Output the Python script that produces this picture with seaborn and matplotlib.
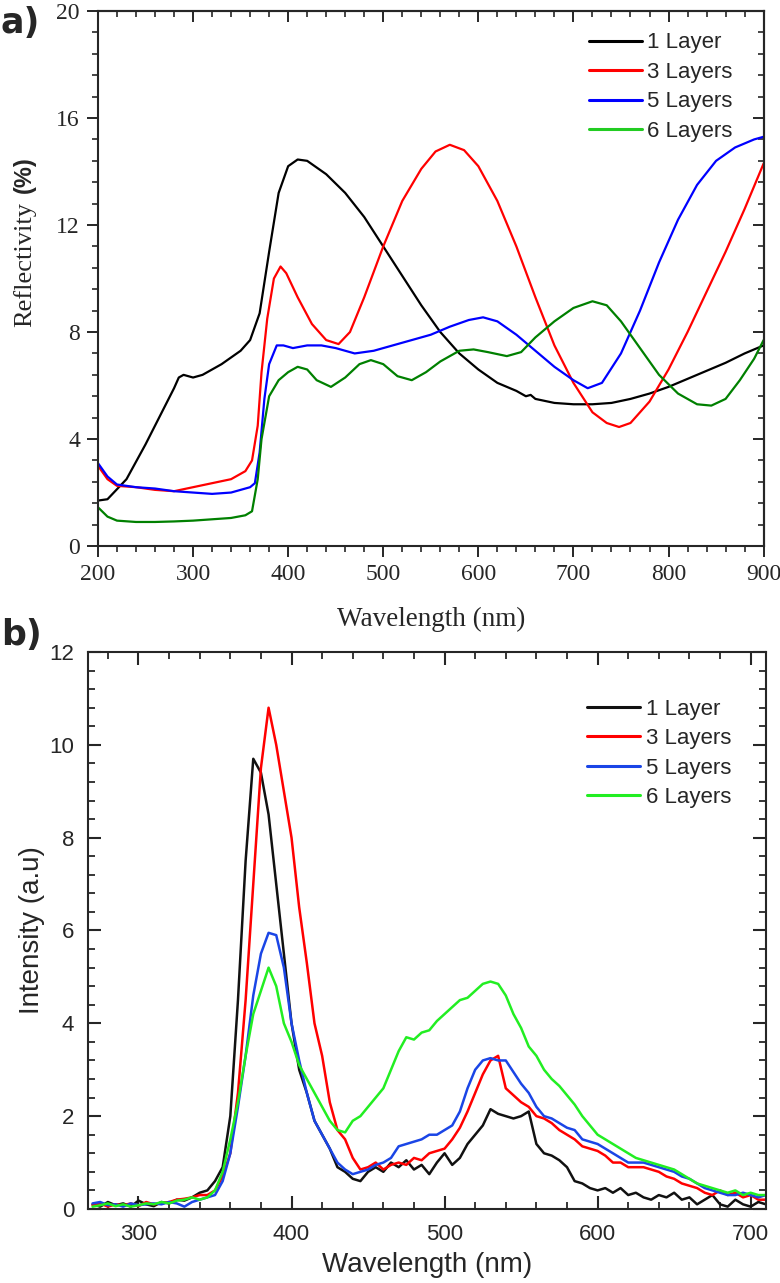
import numpy as np
import pandas as pd
import seaborn as sns
import matplotlib.pyplot as plt
from matplotlib.ticker import MultipleLocator

# ---- panel a: reflectivity ----
refl_wl_1 = [200, 210, 230, 250, 270, 280, 285, 290, 300, 310, 330, 350, 360, 370, 380, 390, 400, 410, 420, 440, 460, 480,
             500, 520, 540, 560, 580, 600, 620, 640, 650, 655, 660, 680, 700, 720, 740, 760, 780, 800, 820, 840, 860, 880, 900]
refl_1 = [1.7, 1.75, 2.5, 3.8, 5.2, 5.9, 6.3, 6.4, 6.3, 6.4, 6.8, 7.3, 7.7, 8.7, 11.0, 13.2, 14.2, 14.45, 14.4, 13.9, 13.2, 12.3,
          11.2, 10.1, 9.0, 8.0, 7.2, 6.6, 6.1, 5.8, 5.6, 5.65, 5.5, 5.35, 5.3, 5.3, 5.35, 5.5, 5.7, 5.95, 6.25, 6.55, 6.85, 7.2, 7.5]

refl_wl_3 = [200, 210, 220, 240, 260, 280, 300, 320, 340, 355, 362, 368, 372, 378, 385, 392, 398, 410, 425, 440, 453, 465,
             480, 500, 520, 540, 555, 570, 585, 600, 620, 640, 660, 680, 700, 720, 735, 748, 760, 780, 800, 820, 840, 860, 880, 900]
refl_3 = [3.0, 2.5, 2.25, 2.2, 2.1, 2.05, 2.2, 2.35, 2.5, 2.8, 3.2, 4.5, 6.5, 8.5, 10.0, 10.45, 10.2, 9.3, 8.3, 7.7, 7.55, 8.0,
          9.3, 11.2, 12.9, 14.1, 14.75, 15.0, 14.8, 14.2, 12.9, 11.2, 9.3, 7.5, 6.1, 5.0, 4.6, 4.45, 4.6, 5.4, 6.6, 8.0, 9.5, 11.0, 12.6, 14.3]

refl_wl_5 = [200, 210, 220, 240, 260, 280, 300, 320, 340, 360, 365, 370, 375, 380, 388, 395, 405, 420, 435, 450, 470, 490,
             510, 530, 550, 570, 590, 605, 620, 640, 660, 680, 700, 715, 730, 750, 770, 790, 810, 830, 850, 870, 890, 900]
refl_5 = [3.1, 2.6, 2.3, 2.2, 2.15, 2.05, 2.0, 1.95, 2.0, 2.2, 2.35, 3.5, 5.5, 6.8, 7.5, 7.5, 7.4, 7.5, 7.5, 7.4, 7.2, 7.3,
          7.5, 7.7, 7.9, 8.2, 8.45, 8.55, 8.4, 7.9, 7.3, 6.7, 6.2, 5.9, 6.1, 7.2, 8.8, 10.6, 12.2, 13.5, 14.4, 14.9, 15.2, 15.3]

refl_wl_6 = [200, 210, 220, 240, 260, 280, 300, 320, 340, 355, 362, 368, 372, 380, 390, 400, 410, 420, 430, 445, 460, 475,
             487, 500, 515, 530, 545, 560, 580, 595, 610, 630, 645, 660, 680, 700, 720, 735, 750, 770, 790, 810, 830, 845,
             860, 875, 890, 900]
refl_6 = [1.45, 1.1, 0.95, 0.9, 0.9, 0.92, 0.95, 1.0, 1.05, 1.15, 1.3, 2.5, 4.0, 5.6, 6.2, 6.5, 6.7, 6.6, 6.2, 5.95, 6.3, 6.8,
          6.95, 6.8, 6.35, 6.2, 6.5, 6.9, 7.3, 7.35, 7.25, 7.1, 7.25, 7.8, 8.4, 8.9, 9.15, 9.0, 8.4, 7.4, 6.4, 5.7, 5.3, 5.25,
          5.5, 6.2, 7.0, 7.7]

# ---- panel b: photoluminescence ----
pl_wl = list(range(270, 711, 5))
pl_1 = [0.1, 0.05, 0.15, 0.08, 0.12, 0.05, 0.18, 0.1, 0.06, 0.15, 0.12, 0.2, 0.18, 0.25, 0.35, 0.4, 0.6, 0.9, 2.0, 4.5,
        7.5, 9.7, 9.4, 8.5, 7.0, 5.5, 4.0, 3.0, 2.5, 1.9, 1.6, 1.3, 0.9, 0.8, 0.65, 0.6, 0.8, 0.9, 0.8, 1.0,
        0.9, 1.05, 0.85, 0.95, 0.75, 1.0, 1.2, 0.95, 1.1, 1.4, 1.6, 1.8, 2.15, 2.05, 2.0, 1.95, 2.0, 2.1, 1.4, 1.2,
        1.15, 1.05, 0.9, 0.6, 0.55, 0.45, 0.4, 0.45, 0.35, 0.45, 0.3, 0.35, 0.25, 0.2, 0.3, 0.25, 0.35, 0.2, 0.25, 0.1,
        0.2, 0.3, 0.1, 0.05, 0.2, 0.1, 0.05, 0.15, 0.1]
pl_3 = [0.08, 0.12, 0.05, 0.1, 0.08, 0.12, 0.06, 0.15, 0.1, 0.12, 0.15, 0.2, 0.22, 0.25, 0.3, 0.3, 0.4, 0.7, 1.2, 2.5,
        4.5, 7.0, 9.5, 10.8, 10.0, 9.0, 8.0, 6.5, 5.3, 4.0, 3.3, 2.3, 1.7, 1.5, 1.1, 0.85, 0.9, 1.0, 0.85, 0.95,
        1.0, 0.95, 1.1, 1.05, 1.2, 1.25, 1.3, 1.5, 1.75, 2.1, 2.5, 2.9, 3.2, 3.3, 2.6, 2.45, 2.3, 2.2, 2.0, 1.95,
        1.85, 1.7, 1.6, 1.5, 1.35, 1.3, 1.25, 1.15, 1.0, 1.0, 0.9, 0.9, 0.9, 0.85, 0.8, 0.7, 0.65, 0.55, 0.5, 0.45,
        0.35, 0.3, 0.4, 0.3, 0.35, 0.25, 0.3, 0.2, 0.2]
pl_5 = [0.12, 0.15, 0.08, 0.1, 0.05, 0.12, 0.08, 0.1, 0.12, 0.1, 0.15, 0.12, 0.05, 0.15, 0.2, 0.25, 0.3, 0.6, 1.2, 2.2,
        3.3, 4.6, 5.5, 5.95, 5.9, 5.2, 4.0, 3.2, 2.5, 1.9, 1.6, 1.3, 1.0, 0.85, 0.75, 0.8, 0.85, 0.95, 1.0, 1.1,
        1.35, 1.4, 1.45, 1.5, 1.6, 1.6, 1.7, 1.8, 2.1, 2.6, 3.0, 3.2, 3.25, 3.2, 3.2, 2.95, 2.7, 2.5, 2.2, 2.0,
        1.95, 1.85, 1.75, 1.7, 1.5, 1.45, 1.4, 1.3, 1.2, 1.1, 1.0, 1.0, 1.0, 0.95, 0.9, 0.85, 0.8, 0.7, 0.65, 0.55,
        0.45, 0.4, 0.35, 0.3, 0.3, 0.35, 0.3, 0.25, 0.3]
pl_6 = [0.05, 0.08, 0.12, 0.06, 0.1, 0.05, 0.08, 0.12, 0.1, 0.15, 0.12, 0.18, 0.2, 0.25, 0.2, 0.25, 0.4, 0.8, 1.5, 2.3,
        3.3, 4.2, 4.7, 5.2, 4.8, 4.0, 3.6, 3.1, 2.8, 2.5, 2.2, 1.9, 1.7, 1.65, 1.9, 2.0, 2.2, 2.4, 2.6, 3.0,
        3.4, 3.7, 3.65, 3.8, 3.85, 4.05, 4.2, 4.35, 4.5, 4.55, 4.7, 4.85, 4.9, 4.85, 4.6, 4.2, 3.9, 3.5, 3.3, 3.0,
        2.8, 2.65, 2.45, 2.25, 2.0, 1.8, 1.6, 1.5, 1.4, 1.3, 1.2, 1.1, 1.05, 1.0, 0.95, 0.9, 0.85, 0.75, 0.65, 0.55,
        0.5, 0.45, 0.4, 0.35, 0.4, 0.3, 0.35, 0.3, 0.3]

labels = ["1 Layer", "3 Layers", "5 Layers", "6 Layers"]
colors_a = ["#000000", "#ff0000", "#0000ff", "#008000"]
colors_b = ["#111111", "#ff0000", "#1a45e6", "#22ee22"]

df_a = pd.concat([pd.DataFrame({"wl": w, "val": v, "sample": lab})
                  for w, v, lab in zip([refl_wl_1, refl_wl_3, refl_wl_5, refl_wl_6],
                                       [refl_1, refl_3, refl_5, refl_6], labels)])
df_b = pd.concat([pd.DataFrame({"wl": pl_wl, "val": v, "sample": lab})
                  for v, lab in zip([pl_1, pl_3, pl_5, pl_6], labels)])

sns.set_style("ticks")
serif = "Liberation Serif"
sans = "Liberation Sans"

fig = plt.figure(figsize=(7.8, 12.83), dpi=100)
ax1 = fig.add_axes([0.1256, 0.5744, 0.8534, 0.4170])
ax2 = fig.add_axes([0.1128, 0.0577, 0.8692, 0.4341])

# panel a
sns.lineplot(data=df_a, x="wl", y="val", hue="sample", palette=colors_a, ax=ax1, linewidth=1.6, sort=False)
ax1.set_xlim(200, 900)
ax1.set_ylim(0, 20)
ax1.xaxis.set_major_locator(MultipleLocator(100))
ax1.xaxis.set_minor_locator(MultipleLocator(20))
ax1.yaxis.set_major_locator(MultipleLocator(4))
ax1.yaxis.set_minor_locator(MultipleLocator(0.8))
ax1.tick_params(which="major", direction="out", length=8, width=1.4, labelsize=17, pad=5)
ax1.tick_params(which="minor", direction="out", length=4.5, width=1.2)
for lab in ax1.get_xticklabels() + ax1.get_yticklabels():
    lab.set_fontfamily(serif)
top = ax1.secondary_xaxis("top")
top.xaxis.set_major_locator(MultipleLocator(100))
top.xaxis.set_minor_locator(MultipleLocator(20))
top.tick_params(which="major", direction="in", length=8, width=1.4, labeltop=False)
top.tick_params(which="minor", direction="in", length=4.5, width=1.2)
right = ax1.secondary_yaxis("right")
right.yaxis.set_major_locator(MultipleLocator(4))
right.yaxis.set_minor_locator(MultipleLocator(0.8))
right.tick_params(which="major", direction="in", length=8, width=1.4, labelright=False)
right.tick_params(which="minor", direction="in", length=4.5, width=1.2)
ax1.set_xlabel("Wavelength (nm)", fontsize=19.5, fontfamily=serif, labelpad=16)
ax1.set_ylabel("")
ax1.text(-0.11, 0.527, "Reflectivity", rotation=90, transform=ax1.transAxes,
         ha="center", va="center", fontsize=19, fontfamily=serif)
ax1.text(-0.11, 0.695, "(%)", rotation=90, transform=ax1.transAxes,
         ha="center", va="center", fontsize=17, fontfamily=sans, fontweight="bold")
leg = ax1.legend(loc="upper left", bbox_to_anchor=(0.737, 0.960), frameon=False, borderpad=0,
                 borderaxespad=0, handlelength=2.4, handletextpad=0.25, labelspacing=0.38,
                 prop={"family": sans, "size": 16})
for line in leg.get_lines():
    line.set_linewidth(2.2)
leg.get_lines()[3].set_color("#22cc22")

# panel b
sns.lineplot(data=df_b, x="wl", y="val", hue="sample", palette=colors_b, ax=ax2, linewidth=1.8)
ax2.set_xlim(267, 710)
ax2.set_ylim(0, 12)
ax2.xaxis.set_major_locator(MultipleLocator(100))
ax2.xaxis.set_minor_locator(MultipleLocator(20))
ax2.yaxis.set_major_locator(MultipleLocator(2))
ax2.yaxis.set_minor_locator(MultipleLocator(0.4))
ax2.tick_params(which="major", direction="in", length=9.5, width=1.5, labelsize=16,
                top=True, right=True)
ax2.tick_params(which="minor", direction="in", length=5, width=1.3, top=True, right=True)
ax2.tick_params(axis="x", which="major", pad=11)
ax2.tick_params(axis="y", which="major", pad=10)
for lab in ax2.get_xticklabels() + ax2.get_yticklabels():
    lab.set_fontfamily(sans)
ax2.set_xlabel("Wavelength (nm)", fontsize=20, fontfamily=sans, labelpad=5)
ax2.set_ylabel("Intensity (a.u)", fontsize=20, fontfamily=sans, labelpad=3)
leg2 = ax2.legend(loc="upper left", bbox_to_anchor=(0.736, 0.916), frameon=False, borderpad=0,
                  borderaxespad=0, handlelength=2.4, handletextpad=0.25, labelspacing=0.38,
                  prop={"family": sans, "size": 16})
for line in leg2.get_lines():
    line.set_linewidth(2.2)

for ax in (ax1, ax2):
    for sp in ax.spines.values():
        sp.set_linewidth(1.5)
        sp.set_visible(True)
for sec in (top, right):
    for sp in sec.spines.values():
        sp.set_linewidth(1.5)

fig.text(0.001, 0.974, "a)", fontsize=25, fontweight="bold", fontfamily="DejaVu Sans")
fig.text(0.001, 0.497, "b)", fontsize=25, fontweight="bold", fontfamily="DejaVu Sans")

fig.savefig("out.png", dpi=100)
